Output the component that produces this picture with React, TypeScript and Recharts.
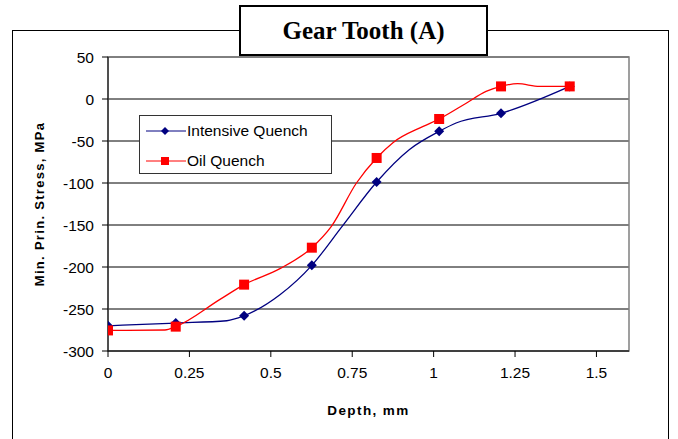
import React from 'react'
import { LineChart, Line, XAxis, YAxis, CartesianGrid, ReferenceArea } from 'recharts'

// depth (mm) and min. principal stress (MPa);
// only some of the points carry a marker
const intensiveDepth = [0, 0.208, 0.365, 0.418, 0.528, 0.626, 0.719, 0.825, 0.926, 1.017, 1.069, 1.207, 1.418]
const intensiveStress = [-270, -266.7, -264, -258, -233, -198, -151.6, -98.8, -60, -38.5, -28.6, -17, 15]
const intensiveMarked = [1, 1, 0, 1, 0, 1, 0, 1, 0, 1, 0, 1, 1]

const oilDepth = [0, 0.175, 0.208, 0.344, 0.418, 0.528, 0.626, 0.686, 0.763, 0.825, 0.875, 0.968, 1.017, 1.1, 1.161, 1.207, 1.258, 1.325, 1.418]
const oilStress = [-275.5, -275, -271, -238.6, -221, -202, -177, -151.6, -100, -70.2, -52, -32.6, -23.8, -5, 9, 15, 18.2, 15, 15]
const oilMarked = [1, 0, 1, 0, 1, 0, 1, 0, 0, 1, 0, 0, 1, 0, 0, 1, 0, 0, 1]

const xTicks = [0, 0.25, 0.5, 0.75, 1, 1.25, 1.5]
const yTicks = [-300, -250, -200, -150, -100, -50, 0, 50]

const seriesNames = ['Intensive Quench', 'Oil Quench']

const toRows = (xs: number[], ys: number[], marks: number[]) =>
  xs.map((x, i) => ({ depth: x, stress: ys[i], marker: marks[i] === 1 }))

const intensiveData = toRows(intensiveDepth, intensiveStress, intensiveMarked)
const oilData = toRows(oilDepth, oilStress, oilMarked)

const BLUE = '#000080'
const RED = '#ff0000'
const SANS = '"Liberation Sans", Arial, sans-serif'

const Diamond = ({ cx, cy, size = 5 }: { cx: number; cy: number; size?: number }) => (
  <path d={`M${cx},${cy - size}L${cx + size},${cy}L${cx},${cy + size}L${cx - size},${cy}Z`} fill={BLUE} />
)

const Square = ({ cx, cy, size = 5 }: { cx: number; cy: number; size?: number }) => (
  <rect x={cx - size} y={cy - size} width={size * 2} height={size * 2} fill={RED} />
)

const blueDot = (props: any) =>
  props.payload.marker ? <Diamond key={props.index} cx={props.cx} cy={props.cy} /> : <g key={props.index} />

const redDot = (props: any) =>
  props.payload.marker ? <Square key={props.index} cx={props.cx} cy={props.cy} /> : <g key={props.index} />

function LegendBox() {
  return (
    <div
      style={{
        position: 'absolute',
        left: 139,
        top: 115,
        width: 193,
        height: 59,
        border: '1px solid #333',
        background: '#fff',
        fontFamily: SANS,
        fontSize: 15.5,
        boxSizing: 'border-box',
      }}
    >
      {seriesNames.map((name, i) => (
        <div key={name} style={{ display: 'flex', alignItems: 'center', height: 22, marginTop: i === 0 ? 4 : 8 }}>
          <svg width={40} height={14} style={{ marginLeft: 6 }}>
            <line x1={0} y1={7} x2={40} y2={7} stroke={i === 0 ? BLUE : RED} strokeWidth={1} />
            {i === 0 ? <Diamond cx={19} cy={7} size={4} /> : <Square cx={19} cy={7} size={4} />}
          </svg>
          <span style={{ color: '#000', marginLeft: 1 }}>{name}</span>
        </div>
      ))}
    </div>
  )
}

export default function App() {
  return (
    <div style={{ position: 'absolute', left: 0, top: 0, width: 678, height: 439, background: '#fff', overflow: 'hidden' }}>
      <div
        style={{
          position: 'absolute',
          left: 12,
          top: 30,
          width: 657,
          height: 430,
          border: '1px solid #000',
          boxSizing: 'border-box',
        }}
      />
      <div style={{ position: 'absolute', left: 0, top: 0 }}>
        <LineChart width={678} height={439} margin={{ top: 57, right: 49, left: 0, bottom: 0 }}>
          <CartesianGrid horizontal vertical={false} stroke="#000" />
          <ReferenceArea x1={0} x2={1.6} y1={-300} y2={50} fill="none" stroke="#808080" strokeWidth={1.5} ifOverflow="visible" />
          <XAxis
            type="number"
            dataKey="depth"
            domain={[0, 1.6]}
            ticks={xTicks}
            allowDataOverflow
            height={88}
            tickSize={6}
            tickMargin={10}
            stroke="#000"
            tick={{ fill: '#000', fontFamily: SANS, fontSize: 15.5 }}
            label={{
              value: 'Depth, mm',
              position: 'insideTop',
              offset: 54,
              style: { fill: '#000', fontFamily: SANS, fontSize: 13.5, fontWeight: 'bold', letterSpacing: 1.4 },
            }}
          />
          <YAxis
            type="number"
            dataKey="stress"
            domain={[-300, 50]}
            ticks={yTicks}
            width={108}
            tickSize={6}
            tickMargin={8}
            stroke="#000"
            tick={{ fill: '#000', fontFamily: SANS, fontSize: 15.5 }}
            label={{
              value: 'Min. Prin. Stress, MPa',
              angle: -90,
              position: 'insideLeft',
              offset: 39,
              style: { textAnchor: 'middle', fill: '#000', fontFamily: SANS, fontSize: 13, fontWeight: 'bold', letterSpacing: 1.3 },
            }}
          />
          <Line
            data={intensiveData}
            dataKey="stress"
            name={seriesNames[0]}
            type="monotone"
            stroke={BLUE}
            strokeWidth={1.3}
            dot={blueDot}
            activeDot={false}
            isAnimationActive={false}
          />
          <Line
            data={oilData}
            dataKey="stress"
            name={seriesNames[1]}
            type="monotone"
            stroke={RED}
            strokeWidth={1.3}
            dot={redDot}
            activeDot={false}
            isAnimationActive={false}
          />
        </LineChart>
      </div>
      <LegendBox />
      <div
        style={{
          position: 'absolute',
          left: 239,
          top: 5,
          width: 249,
          height: 51,
          border: '2px solid #000',
          boxSizing: 'border-box',
          background: '#fff',
          fontFamily: '"Liberation Serif", "Times New Roman", serif',
          fontWeight: 'bold',
          fontSize: 25,
          textAlign: 'center',
          lineHeight: '47px',
        }}
      >
        Gear Tooth (A)
      </div>
    </div>
  )
}
